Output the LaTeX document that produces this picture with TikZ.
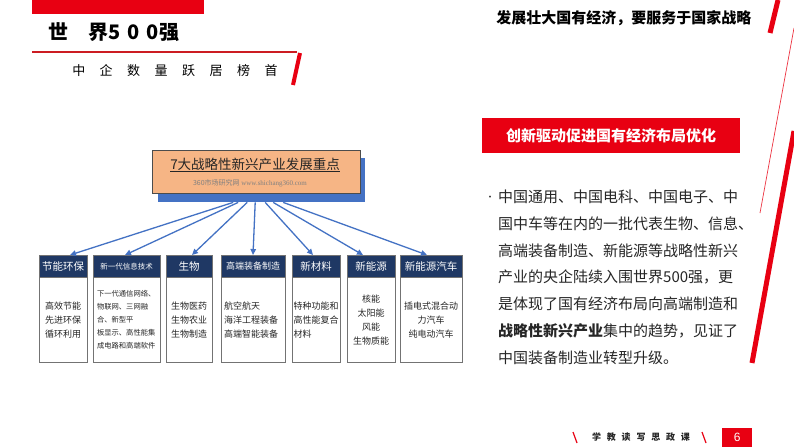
\documentclass[tikz,border=0pt]{standalone}
\usepackage{fontspec}
\setmainfont{Noto Sans CJK SC}
\newfontfamily\serifurl{Liberation Serif}
\newfontfamily\numfont{Liberation Sans}
\usetikzlibrary{arrows.meta,positioning}
\definecolor{slidered}{RGB}{232,0,18}
\definecolor{linered}{RGB}{204,28,34}
\definecolor{headnavy}{RGB}{31,56,100}
\definecolor{shadowblue}{RGB}{68,114,196}
\definecolor{titlepeach}{RGB}{246,181,133}
\definecolor{bodygray}{RGB}{38,38,38}
\newcommand{\sizeat}[2]{\fontsize{#1}{#2}\selectfont}

\begin{document}
\begin{tikzpicture}[x=1pt,y=-1pt,
    headbox/.style={draw=black!55,fill=headnavy,text=white,minimum height=22pt,
                    inner sep=0pt,anchor=north,font=\sizeat{10.5}{12}},
    bodybox/.style={draw=black!55,fill=white,minimum height=85pt,inner sep=0pt,
                    text=bodygray,font=\sizeat{9}{14}},
    fanarrow/.style={draw=shadowblue,line width=1.3pt,-{Triangle[length=6pt,width=5.5pt]}},
    slash/.style={slidered,line width=5pt}]
  \fill[white] (0,0) rectangle (794,447);
  \useasboundingbox (0,0) rectangle (794,447);

  % top left heading
  \fill[slidered] (32,0) rectangle (204,14);
  \node (maintitle) [anchor=west,font=\sizeat{20}{24}\bfseries] at (45,32)
    {世　界5\hspace{7pt}0\hspace{7pt}0强};
  \draw[linered,line width=1.8pt] (32,52) -- (297,52);
  \draw[slash,line width=4pt] (300,53) -- (293,85);
  \node (subtitle) [font=\sizeat{13}{15}] at (175,71)
    {中\hspace{14.5pt}企\hspace{14.5pt}数\hspace{14.5pt}量\hspace{14.5pt}跃\hspace{14.5pt}居\hspace{14.5pt}榜\hspace{14.5pt}首};

  % top right heading
  \node (slogan) [anchor=east,font=\sizeat{15}{18}\bfseries] at (755,18) {发展壮大国有经济，要服务于国家战略};
  \draw[slash] (778,0) -- (770,33);
  \draw[slidered!80,line width=0.7pt] (794,28) -- (760,213);
  \draw[slash] (794,131) -- (752,363);

  % title box
  \node (shadow) [fill=shadowblue,minimum width=207pt,minimum height=44pt,
                  anchor=north west,inner sep=0pt] at (158,158) {};
  \node (titlebox) [draw=black!70,fill=titlepeach,minimum width=208pt,minimum height=43pt,
                    anchor=north west,inner sep=0pt] at (152,150) {};
  \node (titletext) [font=\sizeat{13.5}{16},text=black!85] at (255,165) {\underline{7大战略性新兴产业发展重点}};
  \node (sitetext) [font=\sizeat{7}{9},text=black!50] at (250,183) {360市场研究网 {\serifurl www.shichang360.com}};

  % seven industries
  \node (h1) [headbox,minimum width=48pt] at (63,255) {节能环保};
  \node (h2) [headbox,minimum width=67pt,font=\sizeat{7.5}{9}] at (126.5,255) {新一代信息技术};
  \node (h3) [headbox,minimum width=46pt] at (189,255) {生物};
  \node (h4) [headbox,minimum width=64pt,font=\sizeat{9}{11}] at (253,255) {高端装备制造};
  \node (h5) [headbox,minimum width=48pt] at (316,255) {新材料};
  \node (h6) [headbox,minimum width=48pt] at (371,255) {新能源};
  \node (h7) [headbox,minimum width=62pt] at (431,255) {新能源汽车};

  \node (b1) [bodybox,minimum width=48pt,align=center,below=0pt of h1] {高效节能\\先进环保\\循环利用};
  \node (b2) [bodybox,minimum width=67pt,text width=59pt,align=left,font=\sizeat{7.3}{13},below=0pt of h2]
    {下一代通信网络、\\物联网、三网融\\合、新型平\\板显示、高性能集\\成电路和高端软件};
  \node (b3) [bodybox,minimum width=46pt,align=center,below=0pt of h3] {生物医药\\生物农业\\生物制造};
  \node (b4) [bodybox,minimum width=64pt,text width=58pt,align=left,below=0pt of h4] {航空航天\\海洋工程装备\\高端智能装备};
  \node (b5) [bodybox,minimum width=48pt,text width=45pt,align=left,below=0pt of h5] {特种功能和\\高性能复合\\材料};
  \node (b6) [bodybox,minimum width=48pt,align=center,below=0pt of h6] {核能\\太阳能\\风能\\生物质能};
  \node (b7) [bodybox,minimum width=62pt,align=center,below=0pt of h7] {插电式混合动\\力汽车\\纯电动汽车};

  \draw[fanarrow] ([xshift=-28.5pt]shadow.south) -- ([xshift=7pt]h1.north);
  \draw[fanarrow] ([xshift=-23.5pt]shadow.south) -- ([xshift=-1.5pt]h2.north);
  \draw[fanarrow] ([xshift=-14.5pt]shadow.south) -- ([xshift=3pt]h3.north);
  \draw[fanarrow] ([xshift=-6.5pt]shadow.south) -- (h4.north);
  \draw[fanarrow] ([xshift=3.5pt]shadow.south) -- ([xshift=-3pt]h5.north);
  \draw[fanarrow] ([xshift=11.5pt]shadow.south) -- ([xshift=-8pt]h6.north);
  \draw[fanarrow] ([xshift=21.5pt]shadow.south) -- ([xshift=-4pt]h7.north);

  % right column
  \node (redtag) [fill=slidered,minimum width=258pt,minimum height=35pt,anchor=north west,
                  inner sep=0pt,text=white,font=\sizeat{15}{18}\bfseries] at (482,118) {创新驱动促进国有经济布局优化};
  \node (bulletdot) [text=bodygray,font=\sizeat{9}{10}] at (490,198) {•};
  \node (bodytext) [anchor=north west,inner sep=0pt,text=bodygray,align=left,
                    font=\sizeat{15}{26.7}] at (498,190)
    {中国通用、中国电科、中国电子、中\\
     国中车等在内的一批代表生物、信息、\\
     高端装备制造、新能源等战略性新兴\\
     产业的央企陆续入围世界500强，更\\
     是体现了国有经济布局向高端制造和\\
     \textbf{战略性新兴产业}集中的趋势，见证了\\
     中国装备制造业转型升级。};

  % footer
  \draw[slidered,line width=1.2pt] (573,432) -- (577,443);
  \node (footer) [font=\sizeat{9}{10}\bfseries,text=black!85] at (641,437)
    {学\hspace{5.8pt}教\hspace{5.8pt}读\hspace{5.8pt}写\hspace{5.8pt}思\hspace{5.8pt}政\hspace{5.8pt}课};
  \draw[slidered,line width=1.2pt] (702,432) -- (706,443);
  \node (pagenum) [fill=slidered,minimum width=30pt,minimum height=19pt,anchor=north west,
                   inner sep=0pt,text=white,font=\numfont\sizeat{12}{14}] at (722,428) {6};
\end{tikzpicture}
\end{document}
